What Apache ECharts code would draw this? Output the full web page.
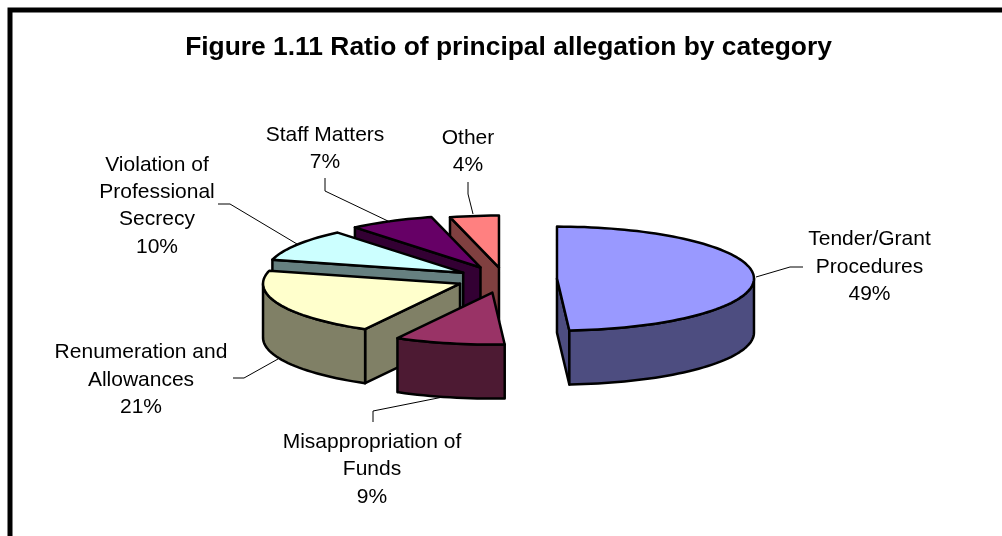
<!DOCTYPE html>
<html>
<head>
<meta charset="utf-8">
<style>html,body{margin:0;padding:0;background:#fff}#main{width:1002px;height:536px}</style>
<script src="https://cdn.jsdelivr.net/npm/echarts@6/dist/echarts.min.js"></script>
</head>
<body>
<div id="main"></div>
<script>
// data, clockwise from 12 o'clock
var categories = ['Tender/Grant\nProcedures', 'Misappropriation of\nFunds', 'Renumeration and\nAllowances', 'Violation of\nProfessional\nSecrecy', 'Staff Matters', 'Other'];
var percents = [49, 9, 21, 10, 7, 4];
var topColors = ['#9999FF', '#993366', '#FFFFCC', '#CCFFFF', '#660066', '#FF8080'];
var sideColors = ['#4D4D80', '#4D1A33', '#808066', '#668080', '#330033', '#804040'];

// layout of the fake 3d pie
var cx = 505, cy = 279, rx = 197, ry = 52, depth = 54;
var explode = [52, 58, 49, 49.5, 54, 48];
var explodeTilt = 0.24;
// label centre and leader line end points
var labelPos = [[869.5, 267], [372, 469.5], [141, 380], [157, 206], [325, 149], [468, 152]];
var leaders = [
  [[756, 277], [790, 267], [803, 267]],
  [[443, 397], [373, 411], [373, 422]],
  [[278, 359], [244, 378], [233, 378]],
  [[297, 244], [230, 204], [218, 204]],
  [[390, 222], [325, 191], [325, 178]],
  [[473, 214], [468, 194], [468, 182]]
];

var total = percents.reduce(function (a, b) { return a + b; }, 0);
var starts = [], acc = 0;
percents.forEach(function (v) { starts.push(acc / total * 360); acc += v; });

function pt(c, deg, dz) {
  var r = deg * Math.PI / 180;
  return [c[0] + rx * Math.sin(r), c[1] - ry * Math.cos(r) + (dz || 0)];
}
function poly(points, fill) {
  return { type: 'polygon', shape: { points: points }, style: { fill: fill, stroke: '#000', lineWidth: 2.5, lineJoin: 'round' } };
}

function renderSlice(params, api) {
  var i = api.value(1);
  var a0 = starts[i], a1 = a0 + api.value(0) / total * 360, mid = (a0 + a1) / 2 * Math.PI / 180;
  var c = [cx + explode[i] * Math.sin(mid), cy - explode[i] * explodeTilt * Math.cos(mid)];
  var kids = [];
  var wall = function (deg) {
    var p = pt(c, deg);
    return poly([c, p, [p[0], p[1] + depth], [c[0], c[1] + depth]], sideColors[i]);
  };
  if (Math.cos((a0 - 90) * Math.PI / 180) < -0.001) kids.push(wall(a0));
  if (Math.cos((a1 + 90) * Math.PI / 180) < -0.001) kids.push(wall(a1));
  // outer wall, only the front half of the rim shows
  var f0 = Math.max(a0, 90), f1 = Math.min(a1, 270), d;
  if (f1 > f0) {
    var up = [], down = [];
    for (d = f0; d < f1; d += 2) { up.push(pt(c, d)); down.unshift(pt(c, d, depth)); }
    up.push(pt(c, f1)); down.unshift(pt(c, f1, depth));
    kids.push(poly(up.concat(down), sideColors[i]));
  }
  var top = [c];
  for (d = a0; d < a1; d += 2) top.push(pt(c, d));
  top.push(pt(c, a1));
  kids.push(poly(top, topColors[i]));
  kids.push({ type: 'polyline', shape: { points: leaders[i] }, style: { fill: 'none', stroke: '#000', lineWidth: 1 } });
  kids.push({
    type: 'text', x: labelPos[i][0], y: labelPos[i][1],
    style: {
      text: categories[i] + '\n' + api.value(0) + '%', fill: '#000', align: 'center', verticalAlign: 'middle',
      font: '21px "Liberation Sans", Arial, sans-serif', lineHeight: 27.3
    }
  });
  return { type: 'group', children: kids };
}

// painted back to front
var seriesData = percents.map(function (v, i) { return [v, i]; }).reverse();

var chart = echarts.init(document.getElementById('main'), null, { renderer: 'canvas' });
chart.setOption({
  animation: false,
  backgroundColor: '#fff',
  title: {
    text: 'Figure 1.11 Ratio of principal allegation by category',
    left: 503.5, top: 30, textAlign: 'center',
    textStyle: { fontFamily: '"Liberation Sans", Arial, sans-serif', fontSize: 26.4, fontWeight: 'bold', color: '#000' }
  },
  graphic: [{
    type: 'polyline', silent: true,
    shape: { points: [[10, 536], [10, 10], [1002, 10]] },
    style: { fill: 'none', stroke: '#000', lineWidth: 5 }
  }],
  series: [{ type: 'custom', coordinateSystem: 'none', renderItem: renderSlice, data: seriesData, silent: true }]
});
</script>
</body>
</html>
